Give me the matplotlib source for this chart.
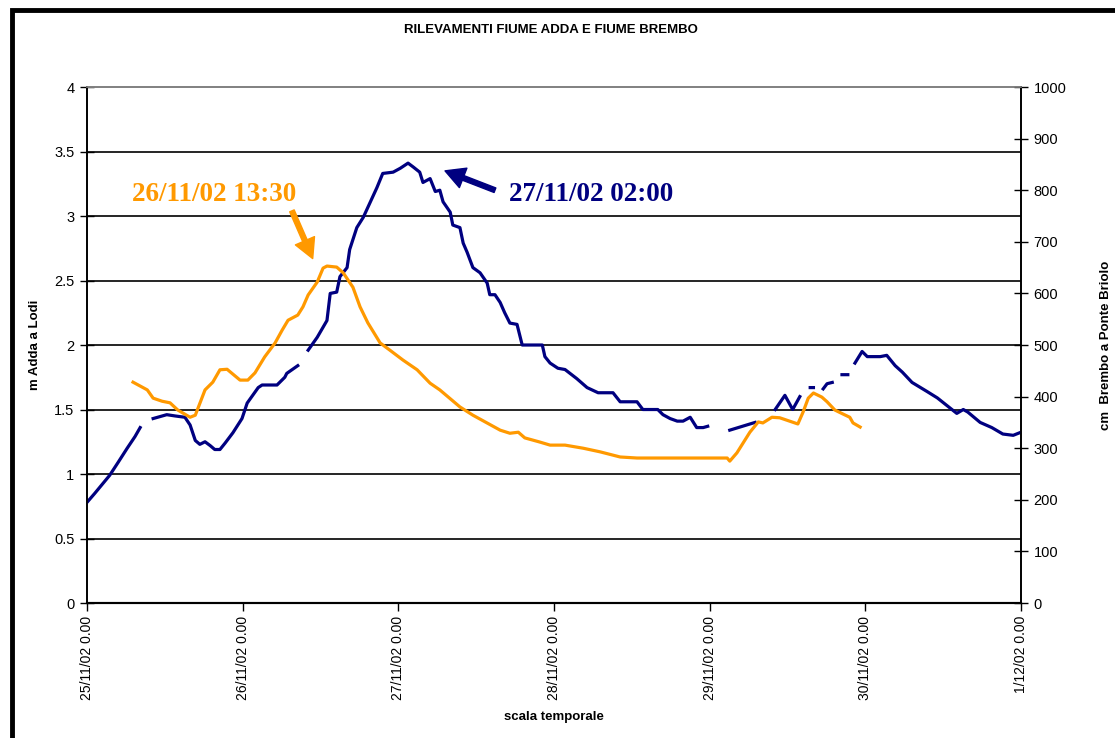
import numpy as np
import matplotlib
matplotlib.use("Agg")
import matplotlib.pyplot as plt
from matplotlib.patches import Rectangle

nan = float("nan")

# ore dall'inizio (25/11/02 0.00)
adda_ore = [0, 1.2, 3.5, 4.8, 6.2, 7.4, 8.2, nan,
            10.2, 12.3, 13.6, 15.1, 15.9, 16.7, 17.4, 18.2, 19.0, 19.7, 20.5, 21.3,
            22.5, 23.9, 24.7, 25.4, 26.4, 27.0, 29.3, 30.5, 30.8, 32.5, nan,
            34.1, 35.5, 37.0, 37.5, 38.5, 39.0, 40.1, 40.5, 41.6, 42.6, 43.6, 44.7,
            45.6, 47.2, 48.3, 49.5, 50.3, 51.3, 51.8, 52.9, 53.7, 54.4, 54.9, 56.0,
            56.4, 57.5, 58.0, 58.6, 59.5, 60.6, 61.7, 62.1, 62.9, 63.7, 64.4, 65.2,
            66.3, 67.1, 70.2, 70.6, 71.4, 72.6, 73.7, 75.5, 77.1, 78.8, 81.1, 82.2,
            84.8, 85.7, 88.0, 88.8, 89.9, 91.0, 91.9, 93.0, 94.0, 95.0, 95.7, nan,
            99.1, 103.0, nan,
            106.1, 107.6, 108.8, 109.9, nan,
            111.5, 112.0, nan,
            113.5, 114.1, 114.9, nan,
            116.4, 117.3, nan,
            118.4, 119.5, 120.3, 122.3, 123.3, 124.6, 125.7, 127.2, 129.5, 131.1,
            132.6, 134.1, 135.1, 135.8, 137.7, 139.5, 141.2, 142.8, 143.8]
adda_m = [0.78, 0.85, 0.99, 1.09, 1.20, 1.29, 1.36, nan,
          1.43, 1.46, 1.45, 1.44, 1.38, 1.26, 1.23, 1.25, 1.22, 1.19, 1.19, 1.24,
          1.32, 1.43, 1.55, 1.60, 1.67, 1.69, 1.69, 1.75, 1.78, 1.84, nan,
          1.96, 2.06, 2.19, 2.40, 2.41, 2.53, 2.60, 2.74, 2.91, 2.99, 3.10, 3.22,
          3.33, 3.34, 3.37, 3.41, 3.38, 3.34, 3.26, 3.29, 3.19, 3.20, 3.11, 3.03,
          2.93, 2.91, 2.79, 2.72, 2.60, 2.56, 2.48, 2.39, 2.39, 2.33, 2.25, 2.17,
          2.16, 2.00, 2.00, 1.91, 1.86, 1.82, 1.81, 1.74, 1.67, 1.63, 1.63, 1.56,
          1.56, 1.50, 1.50, 1.46, 1.43, 1.41, 1.41, 1.44, 1.36, 1.36, 1.37, nan,
          1.34, 1.40, nan,
          1.50, 1.61, 1.50, 1.60, nan,
          1.67, 1.67, nan,
          1.66, 1.70, 1.71, nan,
          1.77, 1.77, nan,
          1.86, 1.95, 1.91, 1.91, 1.92, 1.84, 1.79, 1.71, 1.64, 1.59,
          1.53, 1.47, 1.50, 1.48, 1.40, 1.36, 1.31, 1.30, 1.32]

brembo_ore = [7.1, 9.3, 10.2, 11.6, 12.8, 14.0, 15.9, 16.7, 18.2, 19.4, 20.5, 21.6,
              23.6, 24.8, 25.9, 27.4, 29.0, 30.1, 31.0, 32.5, 33.3, 34.1, 35.5, 36.4,
              37.0, 38.5, 39.5, 41.0, 42.1, 43.3, 45.2, 46.7, 48.7, 50.9, 52.9, 54.4,
              57.5, 59.5, 63.7, 65.2, 66.5, 67.5, 69.8, 71.4, 73.7, 76.5, 79.1, 82.2,
              84.8, 98.7, 99.1, 100.2, 102.2, 103.5, 104.2, 105.6, 106.8, 109.6, 110.4,
              111.2, 112.0, 113.3, 114.1, 115.3, 116.6, 117.6, 118.1, 119.2]
brembo_cm = [428, 413, 397, 391, 388, 374, 360, 364, 413, 428, 452, 453,
             432, 432, 446, 477, 504, 529, 548, 558, 574, 597, 622, 649,
             653, 651, 640, 612, 574, 543, 504, 490, 471, 452, 426, 413,
             380, 364, 335, 329, 331, 320, 312, 306, 306, 300, 293, 283,
             281, 281, 275, 291, 331, 351, 349, 360, 359, 347, 370,
             397, 407, 399, 390, 374, 366, 360, 349, 341]

tick_ore = [0, 24, 48, 72, 96, 120, 144]
tick_lab = ["25/11/02 0.00", "26/11/02 0.00", "27/11/02 0.00", "28/11/02 0.00",
            "29/11/02 0.00", "30/11/02 0.00", "1/12/02 0.00"]

BLU = "#000080"
ARANCIO = "#FF9900"

plt.rcParams["font.family"] = ["Liberation Sans", "DejaVu Sans"]

fig = plt.figure(figsize=(11.15, 7.38), dpi=100)
ax = fig.add_axes([0.078, 0.1829, 0.8377, 0.6992])
ax2 = ax.twinx()

# cornice esterna del grafico
fig.patches.append(Rectangle((0.0105, -0.05), 1.2, 1.0365, transform=fig.transFigure,
                             fill=False, edgecolor="black", linewidth=3.5))

ax.set_xlim(0, 144)
ax.set_ylim(0, 4)
ax2.set_ylim(0, 1000)
ax.set_yticks(np.arange(0, 4.01, 0.5))
ax.set_yticklabels(["0", "0.5", "1", "1.5", "2", "2.5", "3", "3.5", "4"])
ax2.set_yticks(np.arange(0, 1001, 100))
ax.set_xticks(tick_ore)
ax.set_xticklabels(tick_lab, rotation=90, va="top", ha="center")

for y in np.arange(0.5, 3.51, 0.5):
    ax.axhline(y, color="black", linewidth=1.2, zorder=1)

ax.plot(adda_ore, adda_m, color=BLU, linewidth=2.3, zorder=3)
ax2.plot(brembo_ore, brembo_cm, color=ARANCIO, linewidth=2.3, zorder=3)

for a in (ax, ax2):
    a.spines["top"].set_color("#808080")
    a.spines["top"].set_linewidth(1.2)
    a.spines["left"].set_linewidth(1.2)
    a.spines["right"].set_linewidth(1.2)
    a.spines["bottom"].set_linewidth(1.5)

ax.tick_params(axis="y", direction="inout", length=10, width=1, labelsize=10.5, pad=4)
ax2.tick_params(axis="y", direction="inout", length=10, width=1, labelsize=10.5, pad=4)
ax.tick_params(axis="x", direction="out", length=6, width=1, labelsize=10, pad=3)

ax.set_ylabel("m Adda a Lodi", fontsize=9.5, fontweight="bold")
ax.yaxis.set_label_coords(-0.0495, 0.5)
ax2.set_ylabel("cm  Brembo a Ponte Briolo", fontsize=9.5, fontweight="bold")
ax2.yaxis.set_label_coords(1.085, 0.5)
ax.set_xlabel("scala temporale", fontsize=9.5, fontweight="bold", labelpad=8)
fig.text(0.494, 0.960, "RILEVAMENTI FIUME ADDA E FIUME BREMBO", ha="center", va="center",
         fontsize=9.5, fontweight="bold")

serif = ["Liberation Serif", "DejaVu Serif"]
freccia = dict(width=3.5, headwidth=15, headlength=14, shrink=0)
ax.text(7.0, 3.17, "26/11/02 13:30", color=ARANCIO, family=serif, fontsize=19.5,
        fontweight="bold", ha="left", va="center")
ax.annotate("", xy=(34.8, 2.67), xytext=(31.6, 3.04),
            arrowprops=dict(color=ARANCIO, **freccia))
ax.text(65.0, 3.17, "27/11/02 02:00", color=BLU, family=serif, fontsize=19.5,
        fontweight="bold", ha="left", va="center")
ax.annotate("", xy=(55.2, 3.35), xytext=(62.9, 3.20),
            arrowprops=dict(color=BLU, **freccia))

fig.savefig("out.png", dpi=100)
